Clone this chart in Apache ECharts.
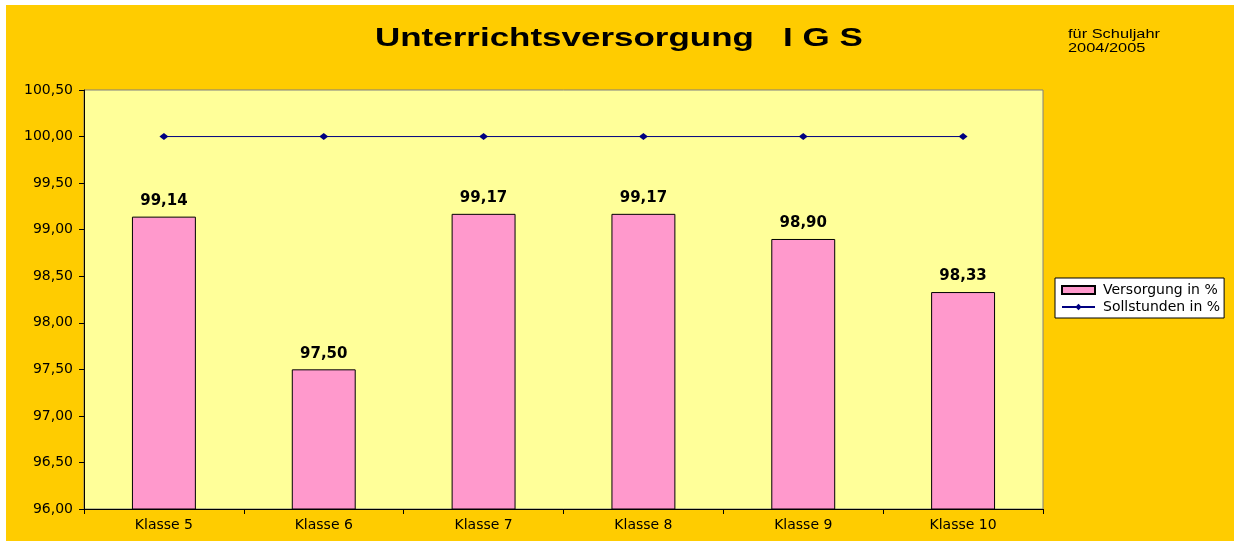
<!DOCTYPE html>
<html>
<head>
<meta charset="utf-8">
<script src="https://cdn.jsdelivr.net/npm/echarts@6/dist/echarts.min.js"></script>
<style>
  html, body { margin: 0; padding: 0; background: #ffffff; }
  #chart { width: 1234px; height: 543px; }
</style>
</head>
<body>
<div id="chart"></div>
<script>
  var categories = ['Klasse 5', 'Klasse 6', 'Klasse 7', 'Klasse 8', 'Klasse 9', 'Klasse 10'];
  var versorgung = [99.14, 97.50, 99.17, 99.17, 98.90, 98.33];
  var sollstunden = [100, 100, 100, 100, 100, 100];

  var fmt = function (v) { return Number(v).toFixed(2).replace('.', ','); };
  var font = 'Liberation Sans, Arial, sans-serif';
  var wide = 'DejaVu Sans, sans-serif';

  var myChart = echarts.init(document.getElementById('chart'));
  var option = {
    backgroundColor: '#ffffff',
    animation: false,
    textStyle: { fontFamily: wide },
    graphic: [
      { // orange chart area
        type: 'rect', z: -10, silent: true,
        shape: { x: 6, y: 5, width: 1228, height: 536 },
        style: { fill: '#FFCC00' }
      },
      { // title, stretched like the original
        type: 'text', x: 375, y: 26, scaleX: 1.345,
        style: { text: 'Unterrichtsversorgung   I G S', font: 'bold 26px ' + font, fill: '#000' }
      },
      {
        type: 'text', x: 1068, y: 27, scaleX: 1.26,
        style: { text: 'für Schuljahr\n2004/2005', font: '13px ' + font, fill: '#000', lineHeight: 14 }
      }
    ],
    grid: {
      left: 84, right: 191, top: 90, bottom: 34,
      show: true,
      backgroundColor: '#FFFF99',
      borderColor: '#808080',
      borderWidth: 1
    },
    legend: {
      orient: 'vertical',
      left: 1055, top: 278,
      backgroundColor: '#ffffff',
      borderColor: '#000',
      borderWidth: 1,
      padding: [5, 4, 4, 6],
      itemGap: 3,
      itemWidth: 33,
      itemHeight: 8,
      textStyle: { fontSize: 14, color: '#000', fontFamily: wide, padding: [0, 0, 0, 3] },
      data: [
        { name: 'Versorgung in %', icon: 'rect' },
        { name: 'Sollstunden in %' }
      ]
    },
    xAxis: {
      type: 'category',
      data: categories,
      axisLine: { lineStyle: { color: '#000', width: 1 } },
      axisTick: { show: true, alignWithLabel: false, length: 5, lineStyle: { color: '#000' } },
      axisLabel: { color: '#000', fontSize: 14, margin: 9, fontFamily: wide },
      splitLine: { show: false }
    },
    yAxis: {
      type: 'value',
      min: 96, max: 100.5, interval: 0.5,
      axisLine: { show: true, lineStyle: { color: '#000', width: 1 } },
      axisTick: { show: true, length: 5, lineStyle: { color: '#000' } },
      axisLabel: { color: '#000', fontSize: 14, margin: 11, fontFamily: wide, formatter: fmt },
      splitLine: { show: false }
    },
    series: [
      {
        name: 'Versorgung in %',
        type: 'bar',
        data: versorgung,
        barWidth: '40%',
        itemStyle: { color: '#FF99CC', borderColor: '#000', borderWidth: 1 },
        label: {
          show: true, position: 'top', distance: 8,
          color: '#000', fontSize: 15, fontWeight: 'bold', fontFamily: wide,
          formatter: function (p) { return fmt(p.value); }
        }
      },
      {
        name: 'Sollstunden in %',
        type: 'line',
        data: sollstunden,
        symbol: 'diamond',
        symbolSize: [9, 7],
        lineStyle: { color: '#000080', width: 1 },
        itemStyle: { color: '#000080' }
      }
    ]
  };
  myChart.setOption(option);
</script>
</body>
</html>
